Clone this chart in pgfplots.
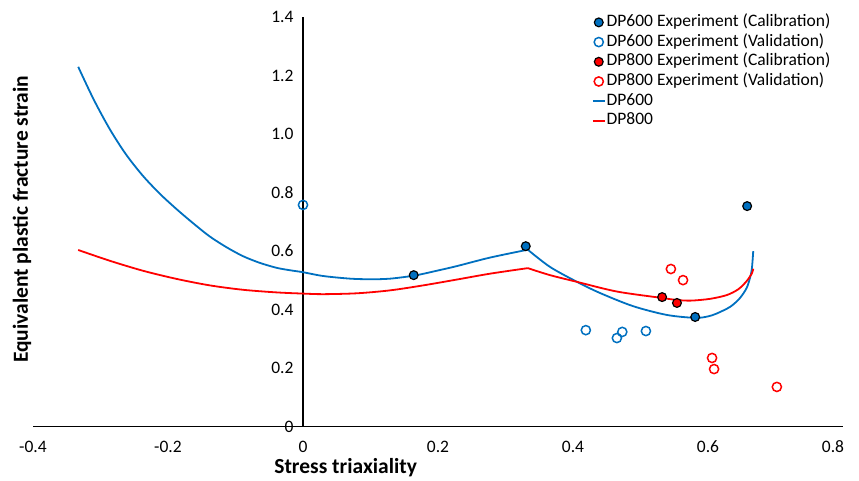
\documentclass[border=0pt]{standalone}
\usepackage{pgfplots}
\pgfplotsset{compat=1.18}
\usepackage{fontspec}
\setmainfont{Carlito}
\definecolor{dpblue}{RGB}{0,112,192}
\definecolor{dpred}{RGB}{255,0,0}

\begin{document}
\begin{tikzpicture}
\useasboundingbox (0,0) rectangle (859pt,480pt);
\begin{axis}[
  at={(33pt,53.3pt)}, anchor=south west,
  scale only axis, width=810pt, height=409.6pt,
  xmin=-0.4, xmax=0.8, ymin=0, ymax=1.4,
  clip=false,
  axis x line=bottom, axis y line=middle,
  axis line style={-, line width=1.4pt, black},
  hide obscured x ticks=false, hide obscured y ticks=false,
  major tick length=0pt,
  xtick={-0.4,-0.2,0,0.2,0.4,0.6,0.8},
  xticklabels={-0.4,-0.2,0,0.2,0.4,0.6,\hspace*{-20pt}0.8},
  ytick={0,0.2,0.4,0.6,0.8,1.0,1.2,1.4},
  yticklabels={0,0.2,0.4,0.6,0.8,1.0,1.2,1.4},
  tick label style={font=\fontsize{17.5}{20}\selectfont},
  xticklabel style={yshift=-13pt, inner sep=1pt},
  yticklabel style={xshift=-6pt},
  legend style={at={(axis description cs:0.686,1.012)}, anchor=north west,
    draw=none, fill=none, font=\fontsize{17.5}{20}\selectfont,
    nodes={inner sep=0pt, text height=12pt, text depth=4pt},
    row sep=3.7pt, column sep=1pt},
  legend cell align=left,
  legend image code/.code={\draw[mark repeat=2,mark phase=2,#1] plot coordinates {(0pt,0pt) (6pt,0pt) (12pt,0pt)};},
]

% fracture loci (drawn beneath the experimental points)
\addplot[dpblue, line width=1.8pt, smooth, forget plot] coordinates {
  (-0.333,1.230) (-0.310,1.118) (-0.286,1.016) (-0.262,0.930) (-0.237,0.857)
  (-0.212,0.796) (-0.187,0.743) (-0.162,0.694) (-0.138,0.650) (-0.113,0.613)
  (-0.089,0.583) (-0.064,0.560) (-0.039,0.543) (-0.020,0.535) (0,0.528)
  (0.030,0.515) (0.070,0.506) (0.100,0.504) (0.129,0.506) (0.166,0.517)
  (0.200,0.534) (0.228,0.549) (0.277,0.578) (0.333,0.605)};
\addplot[dpblue, line width=1.8pt, smooth, forget plot] coordinates {
  (0.333,0.605) (0.366,0.546) (0.406,0.495) (0.440,0.457) (0.489,0.412)
  (0.539,0.382) (0.581,0.372) (0.600,0.377) (0.613,0.387) (0.633,0.410)
  (0.647,0.439) (0.657,0.473) (0.662,0.507) (0.665,0.541) (0.667,0.600)};
\addplot[dpred, line width=1.8pt, smooth, forget plot] coordinates {
  (-0.333,0.604) (-0.286,0.567) (-0.237,0.533) (-0.187,0.505) (-0.138,0.483)
  (-0.089,0.468) (-0.039,0.459) (0,0.455) (0.030,0.453) (0.080,0.456)
  (0.129,0.466) (0.178,0.483) (0.228,0.503) (0.277,0.523) (0.333,0.542)};
\addplot[dpred, line width=1.8pt, smooth, forget plot] coordinates {
  (0.333,0.542) (0.366,0.518) (0.406,0.495) (0.465,0.462) (0.532,0.440)
  (0.554,0.433) (0.575,0.431) (0.603,0.437) (0.628,0.450) (0.645,0.470)
  (0.657,0.497) (0.665,0.524) (0.667,0.540)};

% experiments
\addplot[only marks, mark=*, mark size=4.4pt,
  mark options={fill=dpblue, draw=black, line width=1.2pt}] coordinates {
  (0.164,0.518) (0.330,0.617) (0.581,0.375) (0.658,0.754)};
\addlegendentry{DP600 Experiment (Calibration)}
\addplot[only marks, mark=o, mark size=4.6pt,
  mark options={draw=dpblue, line width=1.5pt}] coordinates {
  (0,0.758) (0.419,0.330) (0.465,0.303) (0.473,0.324) (0.508,0.327)};
\addlegendentry{DP600 Experiment (Validation)}
\addplot[only marks, mark=*, mark size=4.4pt,
  mark options={fill=dpred, draw=black, line width=1.2pt}] coordinates {
  (0.532,0.443) (0.554,0.423)};
\addlegendentry{DP800 Experiment (Calibration)}
\addplot[only marks, mark=o, mark size=4.6pt,
  mark options={draw=dpred, line width=1.5pt}] coordinates {
  (0.545,0.539) (0.563,0.501) (0.606,0.235) (0.609,0.197) (0.702,0.136)};
\addlegendentry{DP800 Experiment (Validation)}
\addlegendimage{dpblue, line width=1.8pt}
\addlegendentry{DP600}
\addlegendimage{dpred, line width=1.8pt}
\addlegendentry{DP800}

\node[inner sep=0pt, font=\fontsize{21.5}{24}\selectfont\bfseries] at (rel axis cs:0.386,-0.100) {Stress triaxiality};
\node[inner sep=0pt, rotate=90, font=\fontsize{21.5}{24}\selectfont\bfseries] at (rel axis cs:-0.0136,0.506) {Equivalent plastic fracture strain};
\end{axis}
\end{tikzpicture}
\end{document}
